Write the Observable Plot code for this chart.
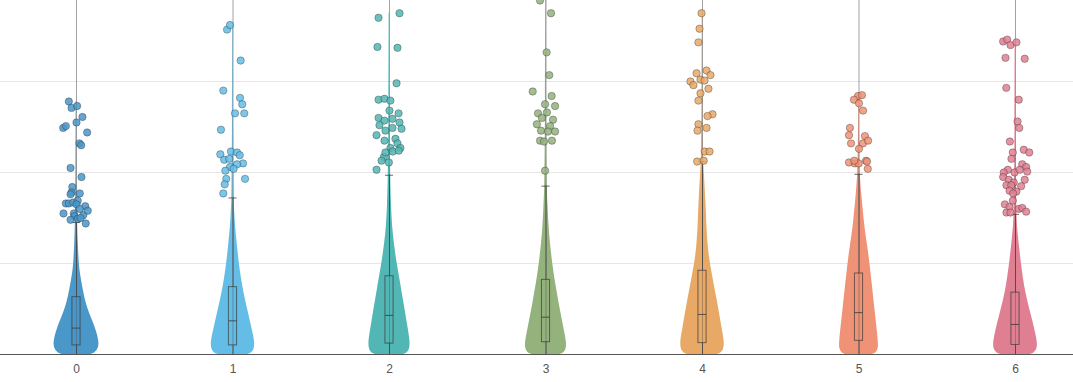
<!DOCTYPE html>
<html>
<head>
<meta charset="utf-8">
<script src="https://cdn.jsdelivr.net/npm/d3@7"></script>
<script src="https://cdn.jsdelivr.net/npm/@observablehq/plot@0.6"></script>
<style>
  html, body { margin: 0; padding: 0; background: #fff; }
  #chart svg { display: block; }
</style>
</head>
<body>
<div id="chart"></div>
<script>
// ---- data ----
const categories = [0, 1, 2, 3, 4, 5, 6];
const colors = ["#4a97c9", "#63bde6", "#52b6b4", "#93b27c", "#e8a866", "#ef9276", "#e07f92"];
const gridValues = [10, 20, 30];
const yTop = 38.9;

// box plot statistics
const boxQ1 = [1.0, 1.0, 1.2, 1.35, 1.25, 1.5, 1.05];
const boxMedian = [2.9, 3.7, 4.3, 4.1, 4.4, 4.6, 3.3];
const boxQ3 = [6.3, 7.4, 8.6, 8.2, 9.2, 8.9, 6.8];
const whiskerLow = [0, 0, 0, 0, 0, 0, 0];
const whiskerHigh = [14.5, 17.2, 19.7, 18.5, 21.2, 19.8, 15.4];

// violin density profiles: [value, relative density]
const violin0 = [[0,0.62],[0.2,0.82],[0.6,0.95],[1.3,1.0],[2.6,0.87],[3.7,0.70],[4.8,0.52],[5.9,0.39],[7.0,0.30],[8.1,0.22],[9.2,0.15],[10.3,0.11],[12.5,0.07],[14.5,0.045],[20,0.02],[27.8,0.015]];
const violin1 = [[0,0.64],[0.2,0.84],[0.6,0.93],[1.3,0.96],[2.6,0.85],[4.8,0.65],[7.4,0.42],[10,0.27],[12,0.19],[14,0.11],[15.8,0.07],[17.2,0.045],[25,0.02],[36.2,0.015]];
const violin2 = [[0,0.60],[0.2,0.80],[0.6,0.88],[1.3,0.91],[2.6,0.83],[5.9,0.61],[8.2,0.46],[10,0.33],[12,0.22],[14,0.13],[16.3,0.087],[19.7,0.045],[28,0.02],[37.5,0.015]];
const violin3 = [[0,0.60],[0.2,0.80],[0.6,0.88],[1.2,0.91],[2.6,0.80],[5.6,0.57],[8.2,0.39],[10,0.29],[12,0.20],[14,0.13],[16.5,0.087],[18.5,0.045],[28,0.02],[38.9,0.015]];
const violin4 = [[0,0.64],[0.2,0.84],[0.6,0.93],[1.35,0.96],[2.6,0.87],[5.9,0.65],[10,0.33],[12,0.24],[14,0.19],[16.9,0.15],[20.2,0.074],[21.2,0.05],[28,0.02],[37.5,0.015]];
const violin5 = [[0,0.58],[0.2,0.76],[0.6,0.84],[1.2,0.86],[4.8,0.70],[10,0.48],[12,0.37],[14,0.25],[17.8,0.11],[19.8,0.05],[24,0.02],[28.5,0.015]];
const violin6 = [[0,0.64],[0.2,0.84],[0.6,0.94],[1.35,0.98],[4.5,0.67],[6.8,0.43],[10,0.25],[13.3,0.11],[15.4,0.045],[25,0.02],[34.6,0.015]];

// outliers: [value, jitter offset in category units]
const outliers0 = [[27.8,-0.049],[27.1,-0.032],[27.3,0.004],[26.1,0.038],[25.5,0],[24.9,-0.085],[25.1,-0.068],[24.4,0.068],[23.2,0.019],[23.0,0.030],[20.5,-0.038],[19.5,0.032],[18.4,-0.027],[17.8,-0.032],[17.6,-0.038],[17.7,0.021],[16.6,-0.068],[16.6,-0.049],[16.7,-0.021],[16.9,0.008],[16.5,0],[15.5,-0.083],[15.5,-0.017],[15.2,-0.013],[14.8,-0.038],[14.9,0.008],[15.3,0.043],[16.3,0.056],[15.8,0.072],[15.0,0.026],[14.4,0.059],[16.0,0.021]];
const outliers1 = [[35.7,-0.038],[36.2,-0.019],[32.3,0.049],[29.0,-0.062],[28.2,0.045],[27.5,0.059],[26.5,0.072],[26.5,0.013],[24.7,-0.077],[22.3,-0.013],[22.2,0.026],[21.9,0.043],[22.0,-0.081],[21.4,-0.056],[21.5,-0.024],[21.0,0.064],[20.9,0.026],[20.6,-0.019],[20.4,0.004],[20.2,-0.049],[19.3,-0.043],[19.3,0.077],[18.7,-0.053],[17.7,-0.062]];
const outliers2 = [[37.0,-0.070],[37.5,0.064],[33.8,-0.077],[33.7,0.051],[29.8,0.045],[28.0,-0.070],[28.1,-0.032],[27.9,0.006],[26.8,0],[26.5,0.058],[26.0,-0.070],[25.7,-0.032],[25.9,0.019],[25.2,-0.064],[25.5,0.064],[24.8,0.077],[24.6,-0.026],[24.9,0.019],[24.1,-0.083],[23.7,0.038],[23.5,-0.032],[23.2,0.051],[22.7,0.070],[22.7,0.006],[21.7,-0.036],[21.1,-0.004],[22.3,0.021],[22.4,0.059],[20.3,-0.083],[21.3,-0.051],[22.2,-0.026]];
const outliers3 = [[38.9,-0.038],[37.5,0.032],[33.2,0.004],[30.7,0.021],[28.9,-0.085],[28.4,0.036],[27.5,-0.006],[27.3,0.058],[26.5,-0.051],[26.6,0.006],[26.0,-0.026],[25.8,0.045],[25.3,-0.058],[25.1,0.026],[24.6,-0.032],[24.5,0.013],[24.5,0.058],[23.5,-0.038],[23.5,0.038],[23.4,-0.013],[20.2,-0.006]];
const outliers4 = [[37.5,-0.006],[35.8,-0.019],[34.3,-0.026],[30.9,-0.038],[31.2,0.026],[30.7,0.051],[30.0,-0.077],[30.2,-0.013],[29.6,-0.058],[30.1,0.013],[29.2,0.038],[28.7,-0.013],[27.9,-0.026],[26.4,0.064],[26.2,0.032],[25.3,-0.026],[24.6,-0.032],[24.9,0.026],[22.3,0.015],[22.3,0.045],[21.2,-0.034],[21.3,0.008]];
const outliers5 = [[28.4,-0.006],[28.5,0.019],[28.0,-0.032],[27.6,0],[26.8,0.026],[24.9,-0.058],[24.1,-0.064],[24.0,0.038],[23.2,-0.051],[23.2,0.026],[23.5,0.058],[22.6,0],[21.1,-0.064],[21.0,-0.026],[21.3,0.045],[20.4,0.056],[21.0,-0.002],[21.3,-0.030],[21.2,0.051]];
const outliers6 = [[34.4,-0.079],[34.6,-0.053],[34.0,-0.032],[34.3,0.006],[32.6,-0.064],[32.5,0.059],[29.3,-0.059],[28.0,0.021],[25.6,0.013],[24.9,0.024],[23.4,-0.036],[22.5,0.053],[22.2,0.088],[22.2,-0.017],[21.5,-0.026],[20.9,0.043],[20.6,0.068],[20.3,-0.049],[20.0,-0.075],[20.0,-0.006],[20.3,0.027],[20.1,0.075],[19.5,-0.079],[19.2,-0.043],[19.2,0.059],[18.9,-0.011],[18.6,-0.058],[18.6,-0.027],[18.5,0.036],[17.9,0.006],[18.0,-0.038],[17.7,-0.015],[16.9,-0.017],[16.5,-0.068],[16.2,-0.038],[16.0,0.021],[16.1,0.043],[15.6,-0.058],[15.6,-0.032],[15.7,0.068]];

// ---- tables built from the arrays ----
const violins = [violin0, violin1, violin2, violin3, violin4, violin5, violin6];
const outlierSets = [outliers0, outliers1, outliers2, outliers3, outliers4, outliers5, outliers6];
const violinRows = categories.flatMap(c => violins[c].map(([v, d]) => ({cat: c, v, d})));
const outlierRows = categories.flatMap(c => outlierSets[c].map(([v, j]) => ({cat: c, v, j})));
const boxRows = categories.map(c => ({cat: c, q1: boxQ1[c], med: boxMedian[c], q3: boxQ3[c], lo: whiskerLow[c], hi: whiskerHigh[c]}));

const violinHalf = 0.147; // half width of densest point, in category units
const boxHalf = 0.026;

const chart = Plot.plot({
  width: 1073,
  height: 382,
  marginTop: 0,
  marginBottom: 28,
  marginLeft: 0,
  marginRight: 0,
  style: {fontFamily: "'Liberation Sans', Arial, sans-serif", fontSize: "12px", color: "#555", background: "#fff"},
  x: {type: "linear", domain: [0, 6], range: [76, 1015], axis: null},
  y: {domain: [0, yTop], axis: null},
  color: {type: "ordinal", domain: categories, range: colors},
  marks: [
    Plot.gridY(gridValues, {stroke: "#e6e6e6", strokeOpacity: 1}),
    Plot.areaX(violinRows, {
      y: "v",
      x1: d => d.cat - d.d * violinHalf,
      x2: d => d.cat + d.d * violinHalf,
      z: "cat",
      fill: "cat",
      fillOpacity: 1,
      curve: "basis"
    }),
    Plot.ruleX(categories, {x: d => d, y1: 0, y2: yTop, stroke: "#8a8a8a", strokeWidth: 0.8}),
    Plot.ruleX(boxRows, {x: "cat", y1: "lo", y2: "hi", stroke: "#3a3a3a", strokeOpacity: 0.75}),
    Plot.ruleY(boxRows, {y: "hi", x1: d => d.cat - boxHalf, x2: d => d.cat + boxHalf, stroke: "#3a3a3a", strokeOpacity: 0.75}),
    Plot.ruleY(boxRows, {y: "lo", x1: d => d.cat - boxHalf, x2: d => d.cat + boxHalf, stroke: "#3a3a3a", strokeOpacity: 0.75}),
    Plot.rect(boxRows, {x1: d => d.cat - boxHalf, x2: d => d.cat + boxHalf, y1: "q1", y2: "q3", fill: "cat", fillOpacity: 0.6, stroke: "#3a3a3a", strokeOpacity: 0.7}),
    Plot.ruleY(boxRows, {y: "med", x1: d => d.cat - boxHalf, x2: d => d.cat + boxHalf, stroke: "#3a3a3a", strokeOpacity: 0.8}),
    Plot.dot(outlierRows, {
      x: d => d.cat + d.j,
      y: "v",
      r: 3.7,
      fill: "cat",
      fillOpacity: 0.85,
      stroke: "#1a1a1a",
      strokeOpacity: 0.4,
      strokeWidth: 0.8,
      clip: true
    }),
    Plot.ruleY([0], {stroke: "#555", strokeWidth: 1}),
    Plot.axisX(categories, {tickSize: 0, tickPadding: 10, fontSize: 12, fill: "#555", label: null, tickFormat: d => String(d)})
  ]
});
document.getElementById("chart").appendChild(chart);
</script>
</body>
</html>
